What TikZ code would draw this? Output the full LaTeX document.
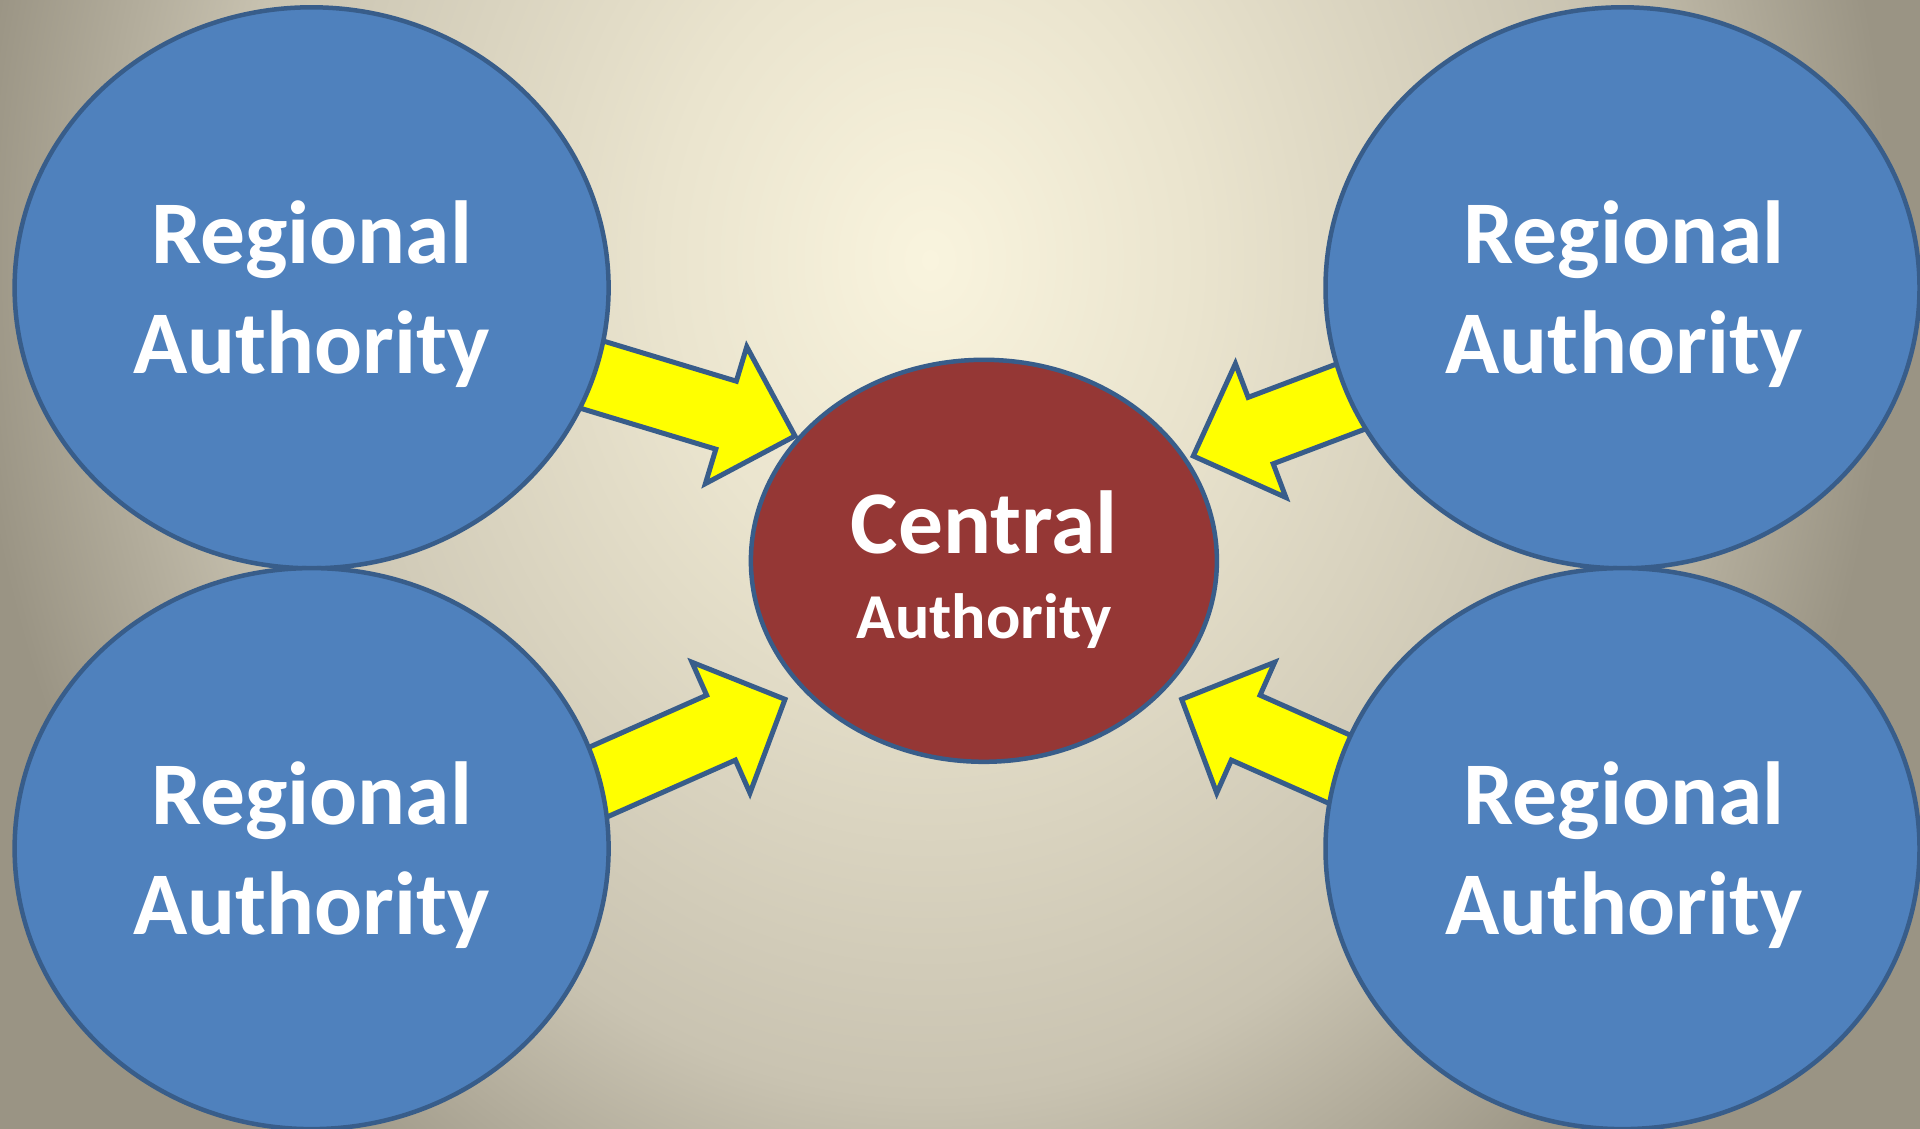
\documentclass[tikz,border=0pt]{standalone}
\usepackage{fontspec}
\setmainfont{Carlito}
\usetikzlibrary{calc,shapes.geometric}

\definecolor{bgcore}{HTML}{F9F4DE}
\definecolor{bgmid}{HTML}{EAE4CE}
\definecolor{bglow}{HTML}{C9C3B1}
\definecolor{bgedge}{HTML}{9A9484}
\definecolor{regblue}{HTML}{4F81BD}
\definecolor{rimblue}{HTML}{385D8A}
\definecolor{coredred}{HTML}{953735}
\definecolor{flowyellow}{HTML}{FFFF00}

% soft backdrop, bright near the upper middle and darker toward the corners
\pgfdeclareradialshading{backdrop}{\pgfpoint{0bp}{0bp}}{%
  color(0bp)=(bgcore); color(7bp)=(bgmid); color(18bp)=(bglow);
  color(25bp)=(bgedge); color(50bp)=(bgedge)}

% block arrow: #1 name, #2 tail point, #3 tip point, #4 head length
\newcommand{\blockarrow}[4]{%
  \coordinate (#1-n) at ($(#3)!#4!(#2)$);
  \draw[flowarrow] (#3)
    -- ($(#1-n)!71.5pt!90:(#3)$)
    -- ($(#1-n)!35.5pt!90:(#3)$)
    -- ($(#2)!35.5pt!90:(#3)$)
    -- ($(#2)!35.5pt!-90:(#3)$)
    -- ($(#1-n)!35.5pt!-90:(#3)$)
    -- ($(#1-n)!71.5pt!-90:(#3)$)
    -- cycle;}

\begin{document}
\begin{tikzpicture}[x=1pt,y=-1pt,
  regional/.style={ellipse, inner sep=0pt, minimum width=594pt, minimum height=561pt,
    fill=regblue, draw=rimblue, line width=4.5pt},
  central/.style={ellipse, inner sep=0pt, minimum width=466pt, minimum height=402pt,
    fill=coredred, draw=rimblue, line width=4.5pt},
  flowarrow/.style={fill=flowyellow, draw=rimblue, line width=5pt, line join=miter},
  biglabel/.style={text=white, anchor=base, inner sep=0pt,
    font=\bfseries\fontsize{89.5}{100}\selectfont},
  smalllabel/.style={text=white, anchor=base, inner sep=0pt,
    font=\bfseries\fontsize{64}{72}\selectfont}]

\useasboundingbox (0,0) rectangle (1920,1129);

% background
\begin{scope}
  \clip (0,0) rectangle (1920,1129);
  \fill[bgedge] (0,0) rectangle (1920,1129);
  \shade[shading=backdrop] (930,260) ellipse [x radius=960pt, y radius=1160pt];
\end{scope}

% arrow end points
\coordinate (a1-tail) at (565.3,366.6);
\coordinate (a1-tip)  at (795,436);
\coordinate (a2-tail) at (1417.7,371.3);
\coordinate (a2-tip)  at (1193.3,456);
\coordinate (a3-tail) at (565.6,796.5);
\coordinate (a3-tip)  at (785,699.3);
\coordinate (a4-tail) at (1401.1,796.5);
\coordinate (a4-tip)  at (1181.7,699.3);

% yellow block arrows toward the centre
\blockarrow{a1}{a1-tail}{a1-tip}{72pt}
\blockarrow{a2}{a2-tail}{a2-tip}{72pt}
\blockarrow{a3}{a3-tail}{a3-tip}{70pt}
\blockarrow{a4}{a4-tail}{a4-tip}{70pt}

% authorities
\node[regional] (tl) at (311.6,287.8) {};
\node[regional] (tr) at (1622.5,287.8) {};
\node[regional] (bl) at (311.6,848.6) {};
\node[regional] (br) at (1622.5,848.6) {};
\node[central]  (cc) at (983.9,560.8) {};

% labels
\node[biglabel] (tl-a) at (311.6,263) {Regional};
\node[biglabel] (tl-b) at (311.6,373) {Authority};
\node[biglabel] (tr-a) at (1624,263) {Regional};
\node[biglabel] (tr-b) at (1624,373) {Authority};
\node[biglabel] (bl-a) at (311.6,824) {Regional};
\node[biglabel] (bl-b) at (311.6,934) {Authority};
\node[biglabel] (br-a) at (1624,824) {Regional};
\node[biglabel] (br-b) at (1624,934) {Authority};
\node[biglabel]   (cc-a) at (984,553) {Central};
\node[smalllabel] (cc-b) at (984,638) {Authority};

\end{tikzpicture}
\end{document}
